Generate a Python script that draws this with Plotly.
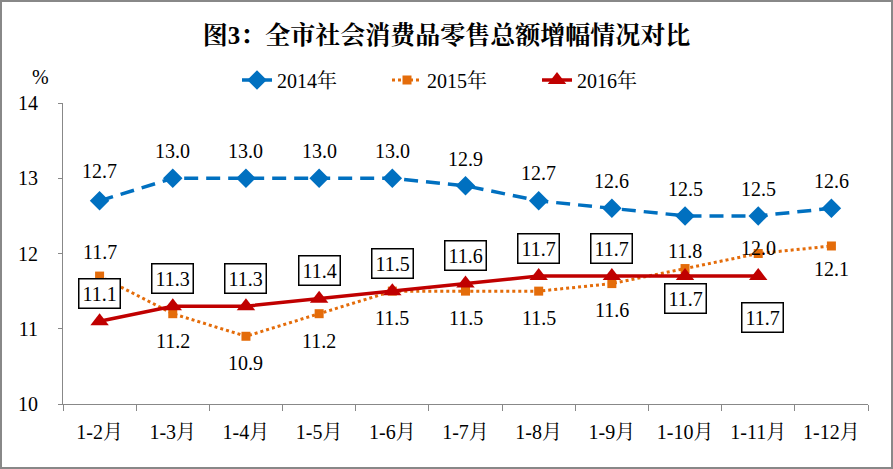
import plotly.graph_objects as go

categories = ["1-2月", "1-3月", "1-4月", "1-5月", "1-6月", "1-7月", "1-8月", "1-9月", "1-10月", "1-11月", "1-12月"]
s2014 = [12.7, 13.0, 13.0, 13.0, 13.0, 12.9, 12.7, 12.6, 12.5, 12.5, 12.6]
s2015 = [11.7, 11.2, 10.9, 11.2, 11.5, 11.5, 11.5, 11.6, 11.8, 12.0, 12.1]
s2016 = [11.1, 11.3, 11.3, 11.4, 11.5, 11.6, 11.7, 11.7, 11.7, 11.7]
names = ["2014年", "2015年", "2016年"]
yticks = [10, 11, 12, 13, 14]

# label offsets (pixels) - styling
sh2014 = [30, 27, 27, 27, 27, 27, 28, 27, 27, 27, 27]
sh2015 = [24, -27, -27, -27, -27, -27, -27, -26, 18, 6, -23]
sh2016 = [28, 28, 28, 28, 28, 28, 28, 28, -22, -41]
dx2016 = [0, 0, 0, 0, 0, 0, 0, 0, 0, 4]

W, H = 893, 469
L, R, T, B = 63, 25, 103, 65
PW, PH = W - L - R, H - T - B

FONT = '"Liberation Serif", "Times New Roman", "Noto Serif CJK SC", "Noto Sans CJK SC", serif'
FS = 20

fig = go.Figure()
fig.add_trace(go.Scatter(x=categories, y=s2014, name=names[0], mode="lines+markers",
                         line=dict(color="#0070C0", width=3.5, dash="14px,8px"),
                         marker=dict(symbol="diamond", size=15, color="#0070C0")))
fig.add_trace(go.Scatter(x=categories, y=s2015, name=names[1], mode="lines+markers",
                         line=dict(color="#E46C0A", width=3, dash="dot"),
                         marker=dict(symbol="square", size=9, color="#E46C0A")))
fig.add_trace(go.Scatter(x=categories[:len(s2016)], y=s2016, name=names[2], mode="lines+markers",
                         line=dict(color="#C00000", width=3.5),
                         marker=dict(symbol="triangle-up", size=16, color="#C00000")))

ann = []
lf = dict(family=FONT, size=FS, color="black")
for c, v, s in zip(categories, s2014, sh2014):
    ann.append(dict(x=c, y=v, text=f"{v:.1f}", showarrow=False, yshift=s, font=lf))
for c, v, s in zip(categories, s2015, sh2015):
    ann.append(dict(x=c, y=v, text=f"{v:.1f}", showarrow=False, yshift=s, font=lf))
for c, v, s, d in zip(categories, s2016, sh2016, dx2016):
    ann.append(dict(x=c, y=v, text=f"{v:.1f}", showarrow=False, yshift=s, xshift=d, font=lf,
                    bordercolor="black", borderwidth=1.5, borderpad=3, bgcolor="white"))
ann.append(dict(x=(40 - L) / PW, y=(H - B - 77) / PH, xref="paper", yref="paper", text="%",
                xanchor="center", yanchor="middle",
                showarrow=False, font=dict(family=FONT, size=FS, color="black")))

fig.update_layout(
    width=W, height=H,
    margin=dict(l=L, r=R, t=T, b=B),
    paper_bgcolor="white", plot_bgcolor="white",
    font=dict(family=FONT, size=FS, color="black"),
    title=dict(text="<b>图3：全市社会消费品零售总额增幅情况对比</b>", x=0.5, xref="container",
               xanchor="center", y=1 - 35 / H, yref="container", yanchor="middle",
               font=dict(family=FONT, size=25, color="black")),
    showlegend=True,
    legend=dict(orientation="h", x=(462 - L) / PW, xanchor="center", y=(H - B - 80) / PH,
                yanchor="middle", font=dict(family=FONT, size=FS, color="black"),
                bgcolor="rgba(0,0,0,0)", entrywidth=105, entrywidthmode="pixels"),
    annotations=ann,
    shapes=[dict(type="rect", xref="paper", yref="paper",
                 x0=(1 - L) / PW, x1=(W - 1 - L) / PW,
                 y0=-(B - 1) / PH, y1=(H - B - 1) / PH,
                 line=dict(color="#888888", width=2), layer="above")],
)
fig.update_xaxes(type="category", showline=True, linecolor="#888888", linewidth=1.2,
                 ticks="outside", ticklen=6, tickcolor="#888888", tickson="boundaries",
                 showgrid=False, zeroline=False, ticklabelstandoff=10,
                 tickfont=dict(family=FONT, size=FS), range=[-0.5, 10.5])
fig.update_yaxes(range=[10, 14], tickvals=yticks, showline=True, linecolor="#888888", linewidth=1.2,
                 ticks="outside", ticklen=4, tickcolor="#888888", showgrid=False, zeroline=False,
                 ticklabelstandoff=16, tickfont=dict(family=FONT, size=FS))

fig.write_html("out.html", config={"displayModeBar": False},
               post_script="document.body.style.margin='0';document.body.style.padding='0';")
